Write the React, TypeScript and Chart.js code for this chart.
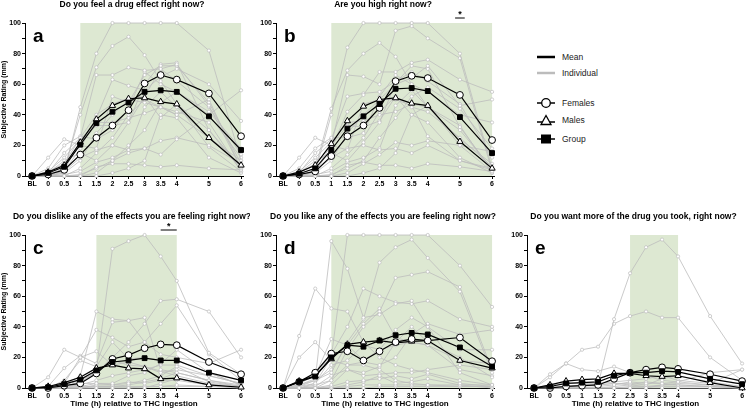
import React, { useEffect, useRef } from "react";
import { Chart, registerables } from "chart.js";

Chart.register(...registerables);

// ---------- data ----------
const TIMES = [-0.5, 0, 0.5, 1, 1.5, 2, 2.5, 3, 3.5, 4, 5, 6];
const TIME_LABELS = ["BL", "0", "0.5", "1", "1.5", "2", "2.5", "3", "3.5", "4", "5", "6"];

// Panel a: Do you feel a drug effect right now?
const A_FEMALES = [0, 1, 4, 14, 25, 33, 43, 60.5, 66, 63, 54, 26];
const A_MALES = [0, 2.5, 7, 22, 37, 46, 50.5, 51, 48.5, 47, 25, 7];
const A_GROUP = [0, 2, 6, 20.5, 34.5, 42, 48, 55, 56, 55, 39, 17];
const A_INDIV = [
  [0, 0, 2, 45, 80, 100, 100, 100, 100, 100, 82, 10],
  [0, 1, 5, 40, 71, 85, 91, 79, 62, 47, 30, 6],
  [0, 3, 8, 25, 66, 66, 71, 69, 70, 73, 46, 5],
  [0, 0, 3, 18, 38, 63, 59, 56, 65, 70, 60, 36],
  [0, 12, 24, 20, 18, 52, 48, 66, 72, 72, 48, 8],
  [0, 5, 20, 26, 24, 30, 44, 68, 60, 55, 40, 12],
  [0, 2, 10, 15, 10, 20, 35, 60, 73, 74, 30, 4],
  [0, 0, 0, 5, 15, 25, 40, 50, 45, 40, 25, 6],
  [0, 0, 0, 0, 2, 10, 15, 18, 14, 24, 40, 56],
  [0, 0, 0, 0, 6, 8, 8, 7, 6, 7, 5, 4],
  [0, 1, 3, 12, 17, 20, 17, 18, 23, 25, 20, 8],
  [0, 0, 1, 3, 9, 12, 17, 45, 55, 45, 25, 10],
  [0, 2, 15, 25, 40, 47, 51, 52, 70, 62, 45, 14],
  [0, 0, 0, 1, 5, 10, 20, 30, 48, 55, 42, 18],
  [0, 0, 2, 10, 28, 40, 50, 48, 45, 40, 50, 5],
  [0, 3, 12, 24, 35, 35, 38, 41, 45, 42, 35, 3],
  [0, 0, 0, 0, 0, 2, 5, 10, 40, 38, 12, 2],
  [0, 0, 4, 22, 33, 33, 35, 52, 38, 47, 19, 3],
];

// Panel b: Are you high right now?
const B_FEMALES = [0, 1, 3, 13, 26, 33, 44.5, 62, 65.5, 64, 53, 23.5];
const B_MALES = [0, 2.5, 7, 21, 36, 45.5, 50, 51, 47.5, 46, 22.5, 5];
const B_GROUP = [0, 1.5, 5, 17, 31, 39, 47, 57, 57.5, 55.5, 38.5, 15];
const B_INDIV = [
  [0, 0, 3, 40, 84, 100, 100, 100, 100, 100, 80, 5],
  [0, 1, 5, 44, 69, 80, 87, 78, 60, 45, 30, 5],
  [0, 2, 8, 20, 66, 65, 60, 95, 98, 90, 77, 3],
  [0, 0, 3, 18, 42, 53, 68, 68, 74, 76, 63, 55],
  [0, 12, 25, 20, 17, 47, 50, 60, 64, 72, 46, 50],
  [0, 5, 18, 25, 25, 28, 52, 66, 60, 55, 40, 35],
  [0, 2, 10, 15, 10, 22, 35, 61, 72, 70, 32, 4],
  [0, 0, 0, 5, 14, 25, 42, 52, 45, 42, 25, 6],
  [0, 0, 0, 0, 2, 8, 14, 22, 20, 23, 20, 16],
  [0, 0, 0, 0, 7, 9, 7, 7, 5, 8, 6, 3],
  [0, 1, 3, 12, 18, 20, 17, 18, 15, 20, 10, 5],
  [0, 0, 1, 3, 9, 12, 18, 46, 56, 45, 24, 8],
  [0, 2, 15, 24, 52, 54, 55, 62, 68, 62, 47, 12],
  [0, 0, 0, 1, 5, 10, 25, 38, 52, 58, 44, 18],
  [0, 0, 2, 10, 28, 40, 50, 50, 46, 26, 10, 4],
  [0, 3, 12, 22, 35, 36, 40, 42, 47, 45, 33, 2],
  [0, 0, 0, 0, 0, 2, 5, 15, 40, 35, 12, 2],
  [0, 0, 4, 20, 33, 32, 36, 52, 40, 46, 20, 3],
];

// Panel c: Do you dislike any of the effects you are feeling right now?
const C_FEMALES = [0, 0, 1.5, 3, 9.5, 19, 21.5, 26, 28.5, 28, 17, 9];
const C_MALES = [0, 1, 3.5, 7, 13, 15, 13, 12.5, 6, 6.5, 2, 0.5];
const C_GROUP = [0, 0.5, 2.5, 5.5, 11.5, 17, 18, 19.5, 18, 18, 10, 5];
const C_INDIV = [
  [0, 0, 1, 2, 12, 91, 96, 100, 86, 70, 23, 9],
  [0, 0, 2, 5, 10, 20, 30, 42, 57, 58, 50, 20],
  [0, 0, 2, 8, 50, 45, 44, 46, 12, 10, 5, 2],
  [0, 0, 3, 20, 38, 33, 27, 30, 22, 20, 16, 25],
  [0, 7, 25, 20, 24, 15, 17, 14, 10, 12, 8, 3],
  [0, 1, 13, 21, 16, 43, 44, 30, 42, 54, 22, 5],
  [0, 0, 5, 18, 14, 30, 19, 20, 18, 18, 10, 2],
  [0, 0, 0, 1, 3, 3, 8, 10, 16, 25, 10, 2],
  [0, 0, 0, 0, 2, 2, 3, 5, 8, 14, 4, 1],
  [0, 0, 0, 0, 0, 0, 0, 0, 3, 6, 2, 0],
  [0, 0, 0, 3, 3, 2, 4, 3, 5, 5, 2, 0],
  [0, 0, 1, 4, 10, 18, 15, 14, 11, 8, 3, 1],
  [0, 0, 0, 0, 1, 1, 2, 4, 6, 10, 5, 1],
  [0, 0, 0, 2, 5, 8, 10, 12, 15, 15, 8, 3],
  [0, 0, 0, 0, 0, 0, 0, 1, 1, 2, 1, 0],
  [0, 0, 0, 1, 1, 1, 1, 1, 1, 1, 1, 1],
];

// Panel d: Do you like any of the effects you are feeling right now?
const D_FEMALES = [0, 4, 10, 22.5, 24, 18, 24, 30, 32, 31, 33, 17.5];
const D_MALES = [0, 4.5, 8, 19, 28.5, 30, 31, 29.5, 30.5, 31, 18, 13];
const D_GROUP = [0, 4, 7.5, 20, 28, 27, 31, 34.5, 36, 35, 26.5, 14];
const D_INDIV = [
  [0, 34, 65, 52, 50, 30, 20, 15, 12, 10, 5, 2],
  [0, 2, 6, 96, 78, 46, 48, 55, 57, 40, 10, 2],
  [0, 0, 3, 20, 100, 100, 100, 100, 100, 100, 80, 53],
  [0, 1, 5, 10, 30, 45, 82, 92, 97, 85, 63, 10],
  [0, 0, 2, 5, 25, 40, 50, 72, 74, 76, 66, 12],
  [0, 3, 8, 22, 40, 65, 60, 56, 55, 57, 45, 40],
  [0, 20, 30, 18, 15, 17, 15, 20, 35, 42, 35, 38],
  [0, 5, 8, 32, 28, 18, 25, 38, 46, 40, 25, 25],
  [0, 0, 0, 2, 12, 10, 14, 30, 40, 30, 20, 7],
  [0, 0, 0, 1, 4, 5, 6, 8, 6, 9, 3, 1],
  [0, 0, 0, 0, 2, 4, 8, 3, 4, 6, 2, 0],
  [0, 0, 0, 5, 15, 15, 12, 5, 3, 2, 1, 1],
  [0, 2, 5, 12, 28, 42, 52, 33, 30, 28, 18, 16],
  [0, 0, 0, 0, 1, 2, 2, 2, 2, 2, 2, 2],
  [0, 0, 1, 8, 12, 8, 9, 10, 10, 12, 15, 12],
  [0, 1, 3, 15, 18, 28, 25, 28, 30, 28, 12, 8],
  [0, 0, 0, 0, 0, 0, 1, 1, 1, 1, 1, 1],
];

// Panel e: Do you want more of the drug you took, right now?
const E_FEMALES = [0, 0, 1, 1.5, 2, 6, 10, 12, 13.5, 12.5, 9, 4.5];
const E_MALES = [0, 2, 4.5, 5.5, 6, 9.5, 9.5, 8, 7.5, 8, 3.5, 0];
const E_GROUP = [0, 1, 3, 3.5, 4, 8, 10, 10, 11, 10.5, 6, 2.5];
const E_INDIV = [
  [0, 0, 1, 2, 2, 45, 75, 92, 97, 86, 47, 16],
  [0, 9, 16, 25, 27, 42, 47, 50, 46, 46, 20, 5],
  [0, 7, 16, 12, 11, 14, 10, 8, 5, 4, 10, 12],
  [0, 0, 0, 0, 1, 2, 4, 3, 3, 4, 2, 1],
  [0, 0, 0, 0, 0, 0, 0, 0, 0, 0, 0, 0],
  [0, 0, 1, 1, 2, 3, 3, 2, 6, 8, 4, 1],
  [0, 0, 0, 0, 0, 0, 1, 1, 1, 1, 1, 0],
  [0, 1, 1, 2, 2, 3, 2, 1, 2, 3, 2, 0],
  [0, 0, 0, 0, 0, 0, 0, 0, 2, 2, 1, 0],
  [0, 0, 0, 0, 0, 1, 2, 4, 3, 2, 1, 0],
  [0, 2, 3, 3, 3, 4, 5, 6, 8, 5, 3, 12],
];

const TITLES = [
  "Do you feel a drug effect right now?",
  "Are you high right now?",
  "Do you dislike any of the effects you are feeling right now?",
  "Do you like any of the effects you are feeling right now?",
  "Do you want more of the drug you took, right now?",
];
const LETTERS = ["a", "b", "c", "d", "e"];
const SHADES: [number, number][] = [[1, 6], [1, 6], [1.5, 4], [1, 6], [2.5, 4]];
const SIGNIF: ([number, number] | null)[] = [null, [4.85, 5.15], [3.5, 4], null, null];
const Y_TICKS = [0, 20, 40, 60, 80, 100];

const FONT = "'Liberation Sans', Arial, Helvetica, sans-serif";
const SHADE_COLOR = "#dde8d2";
const GRAY = "#bcbcbc";

type PanelSpec = {
  idx: number;
  left: number;
  top: number;
  width: number;
  height: number;
  females: number[];
  males: number[];
  group: number[];
  indiv: number[][];
  yTitle: boolean;
  xTitle: boolean;
  padTop: number;
};

const PANELS: PanelSpec[] = [
  { idx: 0, left: 0, top: 0, width: 250, height: 200, females: A_FEMALES, males: A_MALES, group: A_GROUP, indiv: A_INDIV, yTitle: true, xTitle: false, padTop: 23 },
  { idx: 1, left: 251, top: 0, width: 250, height: 200, females: B_FEMALES, males: B_MALES, group: B_GROUP, indiv: B_INDIV, yTitle: false, xTitle: false, padTop: 23 },
  { idx: 2, left: 0, top: 200, width: 250, height: 211, females: C_FEMALES, males: C_MALES, group: C_GROUP, indiv: C_INDIV, yTitle: true, xTitle: true, padTop: 35 },
  { idx: 3, left: 251, top: 200, width: 250, height: 211, females: D_FEMALES, males: D_MALES, group: D_GROUP, indiv: D_INDIV, yTitle: false, xTitle: true, padTop: 35 },
  { idx: 4, left: 502, top: 200, width: 249, height: 211, females: E_FEMALES, males: E_MALES, group: E_GROUP, indiv: E_INDIV, yTitle: false, xTitle: true, padTop: 35 },
];

const toPts = (vals: number[]) => vals.map((v, i) => ({ x: TIMES[i], y: v }));

function Panel({ spec }: { spec: PanelSpec }) {
  const ref = useRef<HTMLCanvasElement | null>(null);
  useEffect(() => {
    if (!ref.current) return;
    const shade = SHADES[spec.idx];
    const sig = SIGNIF[spec.idx];
    const decor = {
      id: "decor" + spec.idx,
      beforeDatasetsDraw(chart: any) {
        const { ctx, chartArea } = chart;
        const xs = chart.scales.x;
        const x0 = xs.getPixelForValue(shade[0]);
        const x1 = xs.getPixelForValue(shade[1]);
        ctx.save();
        ctx.fillStyle = SHADE_COLOR;
        ctx.fillRect(x0, chartArea.top, x1 - x0, chartArea.bottom - chartArea.top);
        ctx.restore();
      },
      afterDraw(chart: any) {
        const { ctx, chartArea } = chart;
        const xs = chart.scales.x;
        ctx.save();
        ctx.fillStyle = "#000";
        ctx.textAlign = "center";
        ctx.textBaseline = "middle";
        ctx.font = `bold 8.5px ${FONT}`;
        ctx.fillText(TITLES[spec.idx], (chartArea.left + chartArea.right) / 2 - 2, chartArea.top - 18);
        ctx.textAlign = "left";
        ctx.textBaseline = "alphabetic";
        ctx.font = `bold 19px ${FONT}`;
        ctx.fillText(LETTERS[spec.idx], chartArea.left + 8, chartArea.top + 19);
        if (sig) {
          const sx0 = xs.getPixelForValue(sig[0]);
          const sx1 = xs.getPixelForValue(sig[1]);
          const ly = chartArea.top - 5;
          ctx.strokeStyle = "#000";
          ctx.lineWidth = 1;
          ctx.beginPath();
          ctx.moveTo(sx0, ly);
          ctx.lineTo(sx1, ly);
          ctx.stroke();
          ctx.textAlign = "center";
          ctx.font = `bold 9px ${FONT}`;
          ctx.fillText("*", (sx0 + sx1) / 2, ly - 1);
        }
        ctx.restore();
      },
    };

    const indivSets = spec.indiv.map((vals, i) => ({
      label: "Participant " + (i + 1),
      data: toPts(vals),
      borderColor: GRAY,
      borderWidth: 0.8,
      pointRadius: 1.6,
      pointBorderWidth: 0.7,
      pointBorderColor: GRAY,
      pointBackgroundColor: "#ffffff",
      pointStyle: "circle",
      order: 10,
      clip: false,
    }));
    const meanBase = {
      borderColor: "#000",
      borderWidth: 1.2,
      pointBorderColor: "#000",
      pointBorderWidth: 1,
      clip: false,
    };
    const meanSets = [
      { ...meanBase, label: "Females", data: toPts(spec.females), pointStyle: "circle", pointRadius: 3.4, pointBackgroundColor: "#fff", order: 1 },
      { ...meanBase, label: "Males", data: toPts(spec.males), pointStyle: "triangle", pointRadius: 3.6, pointBackgroundColor: "#fff", order: 2 },
      { ...meanBase, label: "Group", data: toPts(spec.group), pointStyle: "rect", pointRadius: 3.4, pointBackgroundColor: "#000", order: 0 },
    ];

    const chart = new Chart(ref.current, {
      type: "line",
      data: { datasets: [...meanSets, ...indivSets] as any },
      options: {
        responsive: false,
        animation: false,
        events: [],
        layout: { padding: { top: spec.padTop, right: 7, left: 0, bottom: 0 } },
        plugins: { legend: { display: false }, tooltip: { enabled: false }, title: { display: false } },
        scales: {
          x: {
            type: "linear",
            min: -0.72,
            max: 6.06,
            afterBuildTicks: (s: any) => {
              s.ticks = TIMES.map((v) => ({ value: v }));
            },
            afterFit: (s: any) => {
              s.height = spec.xTitle ? 23 : 24;
            },
            ticks: {
              autoSkip: false,
              maxRotation: 0,
              padding: 1,
              color: "#000",
              font: { family: FONT, size: 7, weight: "bold" },
              callback: (_v: any, i: number) => TIME_LABELS[i],
            },
            grid: { drawOnChartArea: false, drawTicks: true, tickLength: 3, color: "#000", tickColor: "#000" },
            border: { display: true, color: "#000", width: 1 },
            title: {
              display: spec.xTitle,
              text: "Time (h) relative to THC ingestion",
              color: "#000",
              font: { family: FONT, size: 8, weight: "bold" },
              padding: { top: 0, bottom: 2 },
            },
          },
          y: {
            type: "linear",
            min: 0,
            max: 100,
            afterBuildTicks: (s: any) => {
              const t = [];
              for (let v = 0; v <= 100; v += 10) t.push({ value: v });
              s.ticks = t;
            },
            afterFit: (s: any) => {
              s.width = 25;
            },
            ticks: {
              autoSkip: false,
              padding: 1,
              color: "#000",
              font: { family: FONT, size: 7, weight: "bold" },
              callback: (v: any) => (Y_TICKS.includes(Number(v)) ? String(v) : ""),
            },
            grid: { drawOnChartArea: false, drawTicks: true, tickLength: 3, color: "#000", tickColor: "#000" },
            border: { display: true, color: "#000", width: 1 },
            title: {
              display: spec.yTitle,
              text: "Subjective Rating (mm)",
              color: "#000",
              font: { family: FONT, size: 7, weight: "bold" },
              padding: { top: 0, bottom: 0 },
            },
          },
        },
      } as any,
      plugins: [decor],
    });
    return () => chart.destroy();
  }, [spec]);

  return (
    <canvas
      ref={ref}
      width={spec.width}
      height={spec.height}
      style={{ position: "absolute", left: spec.left, top: spec.top, width: spec.width, height: spec.height }}
    />
  );
}

function Legend() {
  const rowStyle: React.CSSProperties = {
    position: "absolute",
    left: 537,
    display: "flex",
    alignItems: "center",
    fontFamily: FONT,
    fontSize: 8.5,
    color: "#222",
    height: 12,
  };
  const text: React.CSSProperties = { marginLeft: 7 };
  return (
    <div>
      <div style={{ ...rowStyle, top: 51 }}>
        <svg width={18} height={8}><line x1={0} y1={4} x2={18} y2={4} stroke="#000" strokeWidth={2.5} /></svg>
        <span style={text}>Mean</span>
      </div>
      <div style={{ ...rowStyle, top: 67 }}>
        <svg width={18} height={8}><line x1={0} y1={4} x2={18} y2={4} stroke="#bcbcbc" strokeWidth={2.5} /></svg>
        <span style={text}>Individual</span>
      </div>
      <div style={{ ...rowStyle, top: 97 }}>
        <svg width={18} height={12}>
          <line x1={0} y1={6} x2={18} y2={6} stroke="#000" strokeWidth={1.5} />
          <circle cx={9} cy={6} r={4.3} fill="#fff" stroke="#000" strokeWidth={1.3} />
        </svg>
        <span style={text}>Females</span>
      </div>
      <div style={{ ...rowStyle, top: 114 }}>
        <svg width={18} height={12}>
          <line x1={0} y1={8} x2={18} y2={8} stroke="#000" strokeWidth={1.5} />
          <polygon points="9,1.5 14,10.5 4,10.5" fill="#fff" stroke="#000" strokeWidth={1.3} />
        </svg>
        <span style={text}>Males</span>
      </div>
      <div style={{ ...rowStyle, top: 133 }}>
        <svg width={18} height={12}>
          <line x1={0} y1={6} x2={18} y2={6} stroke="#000" strokeWidth={1.5} />
          <rect x={4} y={1.5} width={10} height={9} fill="#000" />
        </svg>
        <span style={text}>Group</span>
      </div>
    </div>
  );
}

export default function App() {
  return (
    <div style={{ position: "absolute", left: 0, top: 0, width: 751, height: 411, background: "#fff", overflow: "hidden" }}>
      {PANELS.map((p) => (
        <Panel key={p.idx} spec={p} />
      ))}
      <Legend />
    </div>
  );
}
